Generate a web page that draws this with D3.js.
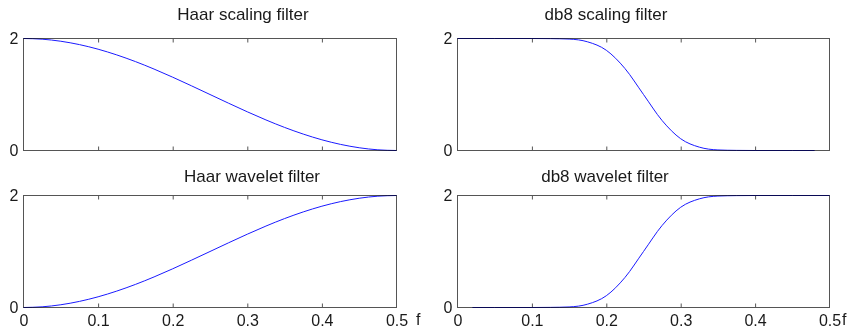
<!DOCTYPE html>
<html>
<head>
<meta charset="utf-8">
<script src="https://cdn.jsdelivr.net/npm/d3@7"></script>
<style>
  body { margin: 0; background: #fff; }
  text { font-family: Arial, "Liberation Sans", sans-serif; fill: #1a1a1a; }
</style>
</head>
<body>
<div id="chart"></div>
<script>
// values
var haarFreq = [0, 0.025, 0.05, 0.075, 0.1, 0.125, 0.15, 0.175, 0.2, 0.225, 0.25,
                0.275, 0.3, 0.325, 0.35, 0.375, 0.4, 0.425, 0.45, 0.475, 0.5];
var haarScaling = [2, 1.988, 1.951, 1.891, 1.809, 1.707, 1.588, 1.454, 1.309, 1.156, 1.0,
                   0.844, 0.691, 0.546, 0.412, 0.293, 0.191, 0.109, 0.049, 0.012, 0];
var haarWavelet = [0, 0.012, 0.049, 0.109, 0.191, 0.293, 0.412, 0.546, 0.691, 0.844, 1.0,
                   1.156, 1.309, 1.454, 1.588, 1.707, 1.809, 1.891, 1.951, 1.988, 2];

var db8ScalingFreq = [0, 0.05, 0.1, 0.125, 0.15, 0.175, 0.2, 0.225, 0.25, 0.275,
                      0.3, 0.325, 0.35, 0.375, 0.4, 0.45, 0.48];
var db8Scaling = [2, 2, 2, 1.998, 1.99, 1.94, 1.79, 1.465, 1.0, 0.535,
                  0.21, 0.06, 0.01, 0.002, 0, 0, 0];
var db8WaveletFreq = [0.02, 0.05, 0.1, 0.125, 0.15, 0.175, 0.2, 0.225, 0.25, 0.275,
                      0.3, 0.325, 0.35, 0.375, 0.4, 0.45, 0.5];
var db8Wavelet = [0, 0, 0, 0.002, 0.01, 0.06, 0.21, 0.535, 1.0, 1.465,
                  1.79, 1.94, 1.99, 1.998, 2, 2, 2];

var xTicks = [0, 0.1, 0.2, 0.3, 0.4, 0.5];
var yTicks = [0, 2];
var titles = ["Haar scaling filter", "db8 scaling filter", "Haar wavelet filter", "db8 wavelet filter"];

var width = 851, height = 331;

var svg = d3.select("#chart").append("svg")
  .attr("width", width)
  .attr("height", height);

var panels = [
  { title: titles[0], f: haarFreq, g: haarScaling, x0: 23, x1: 396, y0: 38, y1: 150, tx: 243, ty: 20, labels: false },
  { title: titles[1], f: db8ScalingFreq, g: db8Scaling, x0: 457, x1: 829, y0: 38, y1: 150, tx: 606, ty: 20, labels: false },
  { title: titles[2], f: haarFreq, g: haarWavelet, x0: 23, x1: 396, y0: 195, y1: 307, tx: 252, ty: 182, labels: true, fx: 416 },
  { title: titles[3], f: db8WaveletFreq, g: db8Wavelet, x0: 457, x1: 829, y0: 195, y1: 307, tx: 605, ty: 182, labels: true, fx: 842 }
];

panels.forEach(function(p) {
  var x = d3.scaleLinear().domain([0, 0.5]).range([p.x0, p.x1]);
  var y = d3.scaleLinear().domain([0, 2]).range([p.y1, p.y0]);
  var g = svg.append("g");

  g.append("rect")
    .attr("x", p.x0 + 0.5)
    .attr("y", p.y0 + 0.5)
    .attr("width", p.x1 - p.x0)
    .attr("height", p.y1 - p.y0)
    .attr("fill", "#fff")
    .attr("stroke", "#555")
    .attr("stroke-width", 1);

  // inward ticks on bottom and top edges
  var inner = xTicks.slice(1, -1);
  var bottom = g.append("g")
    .attr("transform", "translate(0.5," + (p.y1 + 0.5) + ")")
    .call(d3.axisBottom(x).tickValues(p.labels ? xTicks : inner)
      .tickSizeInner(-4).tickSizeOuter(0).tickPadding(7)
      .tickFormat(p.labels ? d3.format("") : ""));
  bottom.select(".domain").remove();
  bottom.selectAll(".tick line").attr("stroke", "#555")
    .filter(function(d) { return d === 0 || d === 0.5; }).remove();
  bottom.selectAll("text").attr("font-size", 16).attr("font-family", null).attr("fill", null);

  var top = g.append("g")
    .attr("transform", "translate(0.5," + (p.y0 + 0.5) + ")")
    .call(d3.axisTop(x).tickValues(inner).tickSizeInner(-4).tickSizeOuter(0).tickFormat(""));
  top.select(".domain").remove();
  top.selectAll(".tick line").attr("stroke", "#555");

  var left = g.append("g")
    .attr("transform", "translate(" + (p.x0 + 0.5) + ",0.5)")
    .call(d3.axisLeft(y).tickValues(yTicks).tickSize(0).tickPadding(5).tickFormat(d3.format("d")));
  left.select(".domain").remove();
  left.selectAll("text").attr("font-size", 16).attr("font-family", null).attr("fill", null);

  var line = d3.line()
    .x(function(d, i) { return x(p.f[i]); })
    .y(function(d) { return y(d); })
    .curve(d3.curveMonotoneX);

  g.append("path")
    .datum(p.g)
    .attr("transform", "translate(0.5,0.5)")
    .attr("fill", "none")
    .attr("stroke", "#1a1aff")
    .attr("stroke-width", 1)
    .style("mix-blend-mode", "multiply")
    .attr("d", line);

  g.append("text")
    .attr("x", p.tx)
    .attr("y", p.ty)
    .attr("text-anchor", "middle")
    .attr("font-size", 17)
    .text(p.title);

  if (p.labels) {
    g.append("text")
      .attr("x", p.fx)
      .attr("y", 325)
      .attr("font-size", 16)
      .text("f");
  }
});
</script>
</body>
</html>
